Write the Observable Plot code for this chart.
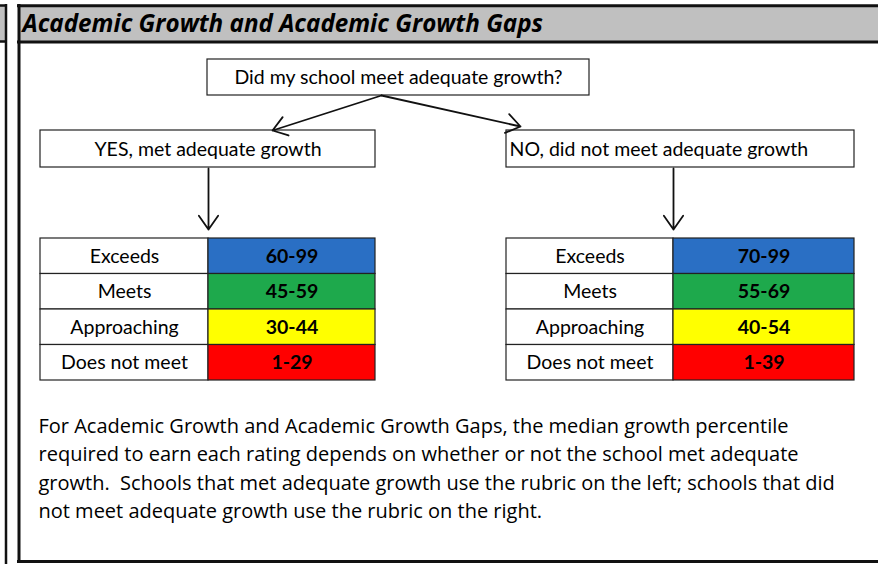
<!DOCTYPE html>
<html><head><meta charset="utf-8">
<script src="https://cdn.jsdelivr.net/npm/d3@7"></script>
<script src="https://cdn.jsdelivr.net/npm/@observablehq/plot@0.6"></script>
<style>body{margin:0;background:#fff}#chart svg{display:block}</style>
</head><body><div id="chart"></div>
<script>
// ---- data ----
const title = "Academic Growth and Academic Growth Gaps";
const question = "Did my school meet adequate growth?";
const branches = ["YES, met adequate growth", "NO, did not meet adequate growth"];
const ratings = ["Exceeds", "Meets", "Approaching", "Does not meet"];
const metRanges = ["60-99", "45-59", "30-44", "1-29"];
const notMetRanges = ["70-99", "55-69", "40-54", "1-39"];
const noteLines = [
  "For Academic Growth and Academic Growth Gaps, the median growth percentile",
  "required to earn each rating depends on whether or not the school met adequate",
  "growth.  Schools that met adequate growth use the rubric on the left; schools that did",
  "not meet adequate growth use the rubric on the right."
];

// ---- layout (pixel units of the drawing) ----
const W = 878, H = 564;
const FONT = "Lato, 'Open Sans', sans-serif";
const FONT2 = "'Open Sans', Lato, sans-serif";
const L = {
  q: {x1: 207, x2: 589, y1: 59, y2: 95},
  branch: [{x1: 40, x2: 375, y1: 130, y2: 167}, {x1: 506, x2: 854, y1: 130, y2: 167}],
  table: [{x1: 40, xm: 208, x2: 375}, {x1: 506, xm: 673, x2: 854}],
  tableTop: 238, rowH: 35.5
};
const rangesByBranch = [metRanges, notMetRanges];

const cells = [];
rangesByBranch.forEach((ranges, b) => {
  const t = L.table[b];
  ratings.forEach((r, i) => {
    const y1 = L.tableTop + i * L.rowH, y2 = y1 + L.rowH;
    cells.push({kind: "label", rating: r, text: r, x1: t.x1, x2: t.xm, y1, y2});
    cells.push({kind: "range", rating: r, text: ranges[i], x1: t.xm, x2: t.x2, y1, y2});
  });
});
const labelCells = cells.filter(d => d.kind === "label");
const rangeCells = cells.filter(d => d.kind === "range");

const branchBoxes = branches.map((t, i) => ({text: t, ...L.branch[i]}));
const qCx = (L.q.x1 + L.q.x2) / 2;
const arrows = [
  {x1: 381, y1: 95, x2: 272, y2: 130},
  {x1: 381, y1: 95, x2: 520, y2: 126},
  {x1: L.table[0].xm, y1: 168, x2: L.table[0].xm, y2: 229},
  {x1: L.table[1].xm, y1: 168, x2: L.table[1].xm, y2: 229}
];
const notes = noteLines.map((t, i) => ({text: t, y: 426 + i * 28.3}));

const plot = Plot.plot({
  width: W, height: H, margin: 0,
  x: {domain: [0, W], range: [0, W], axis: null},
  y: {domain: [0, H], range: [0, H], axis: null},
  color: {domain: ratings, range: ["#2a6fc4", "#1ea94c", "#ffff00", "#ff0000"]},
  style: {fontFamily: FONT, background: "#fff"},
  marks: [
    // left strip
    Plot.rect([{}], {x1: 0, x2: 5, y1: 5, y2: 41, fill: "#c0c0c0"}),
    Plot.ruleY([5, 41], {x1: 0, x2: 7, stroke: "#111", strokeWidth: 2.5}),
    Plot.ruleX([5.5], {y1: 4, y2: H, stroke: "#111", strokeWidth: 2.5}),
    // main header band
    Plot.rect([{}], {x1: 18, x2: W, y1: 5, y2: 41.5, fill: "#c0c0c0"}),
    Plot.ruleY([5.2, 41.5], {x1: 17, x2: W, stroke: "#111", strokeWidth: 3}),
    Plot.ruleX([18.5], {y1: 4, y2: 562.5, stroke: "#111", strokeWidth: 3}),
    Plot.ruleY([561], {x1: 17, x2: W, stroke: "#111", strokeWidth: 3}),
    Plot.text([title], {x: 22, y: 24, text: d => d, textAnchor: "start", fontSize: 24.2, fontWeight: "bold", fontStyle: "italic", fill: "#000", fontFamily: FONT2}),
    // question box
    Plot.rect([L.q], {x1: "x1", x2: "x2", y1: "y1", y2: "y2", fill: "#fff", stroke: "#222", strokeWidth: 1.2}),
    Plot.text([question], {x: qCx, y: 77.5, text: d => d, fontSize: 19.5, fill: "#000"}),
    // branch boxes
    Plot.rect(branchBoxes, {x1: "x1", x2: "x2", y1: "y1", y2: "y2", fill: "#fff", stroke: "#222", strokeWidth: 1.2}),
    Plot.text(branchBoxes.slice(0, 1), {x: d => (d.x1 + d.x2) / 2, y: 149, text: "text", fontSize: 19.5, fill: "#000"}),
    Plot.text(branchBoxes.slice(1), {x: d => d.x1 + 3, y: 149, text: "text", textAnchor: "start", fontSize: 19.5, fill: "#000"}),
    // arrows
    Plot.arrow(arrows, {x1: "x1", y1: "y1", x2: "x2", y2: "y2", stroke: "#111", strokeWidth: 1.8, headLength: 14, headAngle: 70}),
    // tables
    Plot.rect(labelCells, {x1: "x1", x2: "x2", y1: "y1", y2: "y2", fill: "#fff", stroke: "#222", strokeWidth: 1.2}),
    Plot.rect(rangeCells, {x1: "x1", x2: "x2", y1: "y1", y2: "y2", fill: "rating", stroke: "#222", strokeWidth: 1.2}),
    Plot.text(labelCells, {x: d => (d.x1 + d.x2) / 2, y: d => (d.y1 + d.y2) / 2, text: "text", fontSize: 19.5, fill: "#000"}),
    Plot.text(rangeCells, {x: d => (d.x1 + d.x2) / 2, y: d => (d.y1 + d.y2) / 2, text: "text", fontSize: 19.5, fontWeight: "bold", fill: "#000"}),
    // note
    Plot.text(notes, {x: 38, y: "y", text: "text", textAnchor: "start", fontSize: 20, fill: "#000", lineWidth: 1000, fontFamily: FONT2})
  ]
});
document.getElementById("chart").appendChild(plot);
</script>
</body></html>
